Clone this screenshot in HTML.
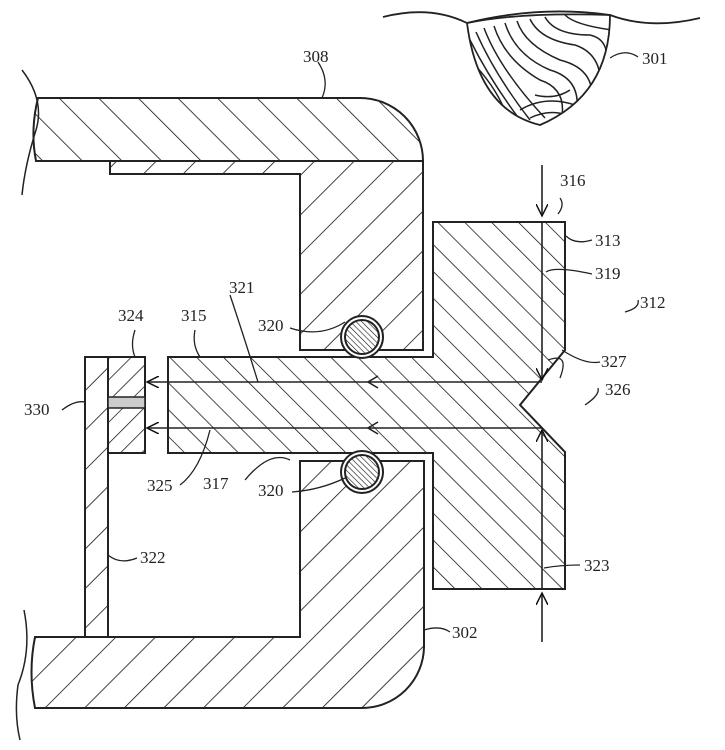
<!DOCTYPE html>
<html><head><meta charset="utf-8"><style>
html,body{margin:0;padding:0;background:#fff;}
svg{display:block;}
text{font-family:"Liberation Serif",serif;font-size:17px;fill:#222;}
</style></head><body>
<svg width="725" height="750" viewBox="0 0 725 750" xmlns="http://www.w3.org/2000/svg">
<defs>
<pattern id="hF" patternUnits="userSpaceOnUse" width="28" height="28" patternTransform="rotate(45)"><line x1="0" y1="0" x2="0" y2="28" stroke="#111" stroke-width="1.6"/></pattern>
<pattern id="hB" patternUnits="userSpaceOnUse" width="28" height="28" patternTransform="rotate(-45)"><line x1="0" y1="0" x2="0" y2="28" stroke="#111" stroke-width="1.6"/></pattern>
<pattern id="hB2" patternUnits="userSpaceOnUse" width="19" height="19" patternTransform="rotate(-45)"><line x1="0" y1="0" x2="0" y2="19" stroke="#111" stroke-width="1.5"/></pattern>
<pattern id="hF2" patternUnits="userSpaceOnUse" width="15" height="15" patternTransform="rotate(45)"><line x1="0" y1="0" x2="0" y2="15" stroke="#111" stroke-width="1.5"/></pattern>
<pattern id="hs" patternUnits="userSpaceOnUse" width="4" height="4" patternTransform="rotate(-45)"><line x1="0" y1="0" x2="0" y2="4" stroke="#111" stroke-width="1.2"/></pattern>
<clipPath id="fc"><path d="M467,23 Q520,12 610,15 Q610,95 540,125 Q478,110 467,23Z"/></clipPath>
<marker id="ah" markerWidth="14" markerHeight="12" refX="12" refY="6" orient="auto" markerUnits="userSpaceOnUse"><path d="M0,0 L12,6 L0,12" fill="none" stroke="#111" stroke-width="1.5"/></marker>
</defs>
<g stroke="#222" stroke-width="2" fill="none">
<!-- finger 301 -->
<path d="M383,17 Q430,5 467,23 Q540,5 610,15 Q650,30 700,18" stroke-width="1.8"/>
<g clip-path="url(#fc)" stroke-width="1.5">
<path d="M470,40 Q490,80 520,120"/><path d="M476,32 Q495,75 530,120"/><path d="M484,28 Q500,70 545,118"/>
<path d="M494,26 Q505,60 540,80 Q570,90 560,125"/><path d="M505,23 Q515,55 550,70 Q585,80 575,120"/>
<path d="M517,21 Q525,45 560,60 Q600,70 590,110"/><path d="M530,19 Q540,40 575,45 Q605,55 600,95"/>
<path d="M545,17 Q555,35 590,35 Q612,40 605,70"/><path d="M565,15 Q575,25 612,30"/>
<path d="M470,60 Q500,90 510,125"/><path d="M470,80 Q495,100 500,125"/>
<path d="M535,95 Q555,100 570,90"/><path d="M520,110 Q545,95 575,105"/><path d="M530,118 Q550,108 570,116"/>
</g>
<path d="M467,23 Q520,12 610,15 Q610,95 540,125 Q478,110 467,23Z" stroke-width="1.8"/>

<!-- 308 top housing: band -->
<path d="M38,98 L360,98 A63,63 0 0 1 423,161 L36,161 Q30,130 38,98Z" fill="url(#hB)"/>
<!-- 308 vertical part + lip -->
<path d="M110,161 L423,161 L423,350 L300,350 L300,174 L110,174Z" fill="url(#hF)"/>
<path d="M22,70 Q45,100 36,130 Q25,165 22,195" stroke-width="1.5"/>

<!-- 302 lower housing -->
<path d="M300,461 L424,461 L424,647 A62,62 0 0 1 362,708 L35,708 Q28,672 35,637 L300,637Z" fill="url(#hF)"/>
<path d="M24,610 Q32,650 18,685 Q14,715 20,740" stroke-width="1.5"/>

<!-- bar 322 -->
<rect x="85" y="357" width="23" height="280" fill="url(#hF)"/>
<!-- block 324 -->
<rect x="108" y="357" width="37" height="96" fill="url(#hF2)"/>
<rect x="108" y="397" width="37" height="11" fill="#ccc" stroke-width="1.5"/>

<!-- plunger 315 / plate 313 -->
<path d="M168,357 L433,357 L433,222 L565,222 L565,350 L520,405 L565,452 L565,589 L433,589 L433,453 L168,453Z" fill="url(#hB2)"/>

<!-- o-rings -->
<circle cx="362" cy="337" r="21" fill="#fff"/><circle cx="362" cy="337" r="17" fill="url(#hs)"/>
<circle cx="362" cy="472" r="21" fill="#fff"/><circle cx="362" cy="472" r="17" fill="url(#hs)"/>

<!-- light paths -->
<line x1="542" y1="165" x2="542" y2="216" marker-end="url(#ah)" stroke-width="1.6"/>
<line x1="542" y1="222" x2="542" y2="380" marker-end="url(#ah)" stroke-width="1.6"/>
<line x1="542" y1="382" x2="147" y2="382" marker-end="url(#ah)" stroke-width="1.6"/>
<path d="M378,376 L368,382 L378,388" stroke-width="1.6"/>
<line x1="542" y1="428" x2="147" y2="428" marker-end="url(#ah)" stroke-width="1.6"/>
<path d="M378,422 L368,428 L378,434" stroke-width="1.6"/>
<line x1="542" y1="589" x2="542" y2="430" marker-end="url(#ah)" stroke-width="1.6"/>
<line x1="542" y1="642" x2="542" y2="593" marker-end="url(#ah)" stroke-width="1.6"/>
<path d="M548,360 Q570,352 560,378" stroke-width="1.3"/>

<!-- leaders -->
<g stroke-width="1.3">
<path d="M610,58 Q625,48 638,57"/>
<path d="M318,62 Q330,80 322,98"/>
<path d="M560,198 Q565,205 558,214"/>
<path d="M566,236 Q575,245 592,240"/>
<path d="M546,272 Q555,266 592,274"/>
<path d="M625,312 Q640,308 638,300"/>
<path d="M562,350 Q585,365 600,362"/>
<path d="M585,405 Q600,395 598,388"/>
<path d="M544,568 Q560,565 580,565"/>
<path d="M424,630 Q440,625 450,632"/>
<path d="M108,555 Q120,565 137,558"/>
<path d="M62,410 Q75,400 85,402"/>
<path d="M135,330 Q130,345 135,357"/>
<path d="M195,330 Q192,345 200,357"/>
<path d="M230,295 Q245,340 258,382"/>
<path d="M290,328 Q320,338 345,322"/>
<path d="M292,492 Q320,490 345,478"/>
<path d="M180,485 Q200,470 210,430"/>
<path d="M245,480 Q270,450 290,460"/>
</g>
</g>
<g stroke="none">
<text x="642" y="64">301</text>
<text x="303" y="62">308</text>
<text x="560" y="186">316</text>
<text x="595" y="246">313</text>
<text x="595" y="279">319</text>
<text x="640" y="308">312</text>
<text x="601" y="367">327</text>
<text x="605" y="395">326</text>
<text x="584" y="571">323</text>
<text x="452" y="638">302</text>
<text x="140" y="563">322</text>
<text x="24" y="415">330</text>
<text x="118" y="321">324</text>
<text x="181" y="321">315</text>
<text x="229" y="293">321</text>
<text x="258" y="331">320</text>
<text x="258" y="496">320</text>
<text x="147" y="491">325</text>
<text x="203" y="489">317</text>
</g>
</svg>
</body></html>
